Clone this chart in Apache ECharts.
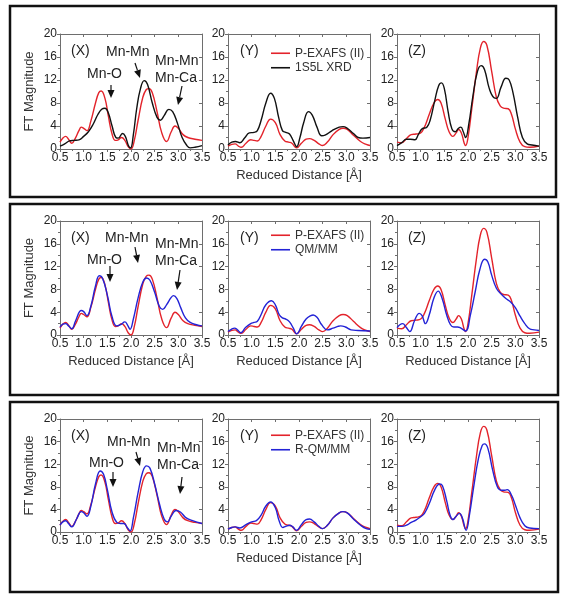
<!DOCTYPE html>
<html><head><meta charset="utf-8">
<script src="https://cdn.jsdelivr.net/npm/echarts@6/dist/echarts.min.js"></script>
<style>html,body{margin:0;padding:0;background:#fff}#c{width:566px;height:600px}</style>
</head><body><div id="c"></div>
<script>
// ---- data (Reduced Distance [Å], FT Magnitude) ----
const xMin = 0.5, xMax = 3.5, xStep = 0.5;
const yMin = 0, yMax = 20, yStep = 4;

const pexafsX = [[0.5,1.2],[0.55,1.8],[0.62,2.2],[0.68,1.7],[0.75,1.0],[0.82,1.8],[0.9,3.2],[0.95,3.8],[1.0,3.6],[1.07,3.2],[1.15,4.8],[1.25,8.0],[1.32,9.8],[1.37,10.1],[1.45,8.8],[1.52,5.8],[1.6,2.6],[1.67,1.5],[1.73,1.6],[1.8,2.0],[1.87,1.5],[1.94,0.4],[2.0,0.0],[2.07,1.5],[2.15,5.0],[2.25,9.0],[2.32,10.3],[2.38,10.5],[2.45,9.8],[2.55,6.5],[2.65,2.8],[2.75,1.3],[2.85,3.0],[2.93,4.0],[3.0,3.6],[3.1,2.5],[3.2,2.0],[3.35,1.7],[3.5,1.5]];
const pexafsY = [[0.5,0.5],[0.58,0.8],[0.65,0.9],[0.72,0.5],[0.78,0.3],[0.88,1.0],[0.98,1.6],[1.05,1.5],[1.12,1.4],[1.2,2.2],[1.3,4.0],[1.4,5.2],[1.5,4.6],[1.6,2.5],[1.7,1.4],[1.78,1.2],[1.85,1.0],[1.95,0.2],[2.05,1.0],[2.15,1.7],[2.22,1.8],[2.32,1.5],[2.42,0.9],[2.5,0.6],[2.6,1.2],[2.72,2.5],[2.85,3.4],[2.93,3.6],[3.02,3.4],[3.15,2.4],[3.3,1.3],[3.42,0.8],[3.5,0.6]];
const pexafsZ = [[0.5,1.2],[0.6,1.1],[0.7,1.8],[0.8,2.5],[0.9,2.6],[1.0,2.8],[1.08,3.8],[1.18,6.0],[1.28,8.0],[1.36,8.6],[1.43,8.0],[1.52,5.2],[1.6,3.0],[1.68,2.2],[1.75,2.8],[1.8,3.4],[1.86,2.8],[1.92,1.0],[1.95,0.6],[2.0,2.0],[2.08,7.0],[2.18,13.5],[2.26,17.5],[2.33,18.7],[2.4,18.0],[2.5,13.5],[2.6,9.0],[2.68,7.5],[2.75,7.1],[2.85,7.0],[2.92,6.0],[3.0,3.5],[3.1,1.2],[3.2,0.4],[3.3,0.3],[3.5,0.5]];

const xrdX = [[0.5,0.5],[0.6,0.9],[0.7,1.4],[0.8,1.5],[0.9,1.6],[1.0,2.2],[1.1,3.0],[1.2,4.3],[1.3,6.0],[1.38,6.9],[1.45,7.1],[1.52,6.3],[1.6,4.0],[1.68,2.0],[1.73,1.9],[1.82,2.7],[1.88,2.2],[1.95,0.5],[1.99,0.2],[2.05,2.5],[2.12,7.0],[2.2,10.5],[2.28,11.9],[2.35,11.2],[2.45,8.0],[2.55,5.5],[2.62,5.0],[2.7,5.8],[2.8,6.9],[2.88,6.5],[2.98,4.5],[3.08,2.0],[3.18,0.6],[3.25,0.2],[3.35,0.3],[3.5,0.6]];
const xrdY = [[0.5,0.7],[0.58,1.2],[0.66,1.3],[0.75,1.1],[0.85,1.9],[0.95,2.8],[1.05,2.9],[1.12,3.2],[1.2,5.0],[1.3,8.0],[1.4,9.7],[1.48,8.8],[1.57,5.5],[1.65,3.2],[1.72,2.9],[1.8,2.6],[1.88,1.4],[1.95,0.4],[2.02,2.0],[2.1,4.6],[2.2,6.5],[2.28,5.9],[2.38,3.8],[2.48,2.3],[2.55,2.4],[2.7,3.2],[2.85,3.8],[2.93,3.9],[3.02,3.6],[3.15,2.7],[3.25,2.0],[3.35,1.9],[3.5,2.0]];
const xrdZ = [[0.5,0.6],[0.6,1.1],[0.7,1.7],[0.78,1.7],[0.88,1.6],[0.95,2.5],[1.03,3.5],[1.13,3.8],[1.2,5.0],[1.3,8.5],[1.38,11.0],[1.44,11.5],[1.5,10.5],[1.58,6.5],[1.66,3.5],[1.73,3.0],[1.8,3.6],[1.85,3.8],[1.9,3.0],[1.95,2.0],[2.02,4.5],[2.1,9.0],[2.2,13.5],[2.28,14.5],[2.35,13.8],[2.45,10.5],[2.55,8.9],[2.6,8.8],[2.7,10.8],[2.8,12.3],[2.87,12.0],[2.95,9.8],[3.05,5.5],[3.15,2.0],[3.25,0.9],[3.35,0.7],[3.5,0.5]];

const qmX = [[0.5,1.4],[0.56,1.9],[0.62,2.0],[0.68,1.6],[0.75,1.1],[0.83,2.5],[0.95,4.3],[1.0,4.1],[1.07,3.4],[1.15,5.0],[1.25,8.6],[1.33,10.4],[1.4,9.9],[1.5,7.0],[1.6,3.2],[1.7,1.6],[1.78,1.8],[1.87,2.3],[1.93,1.7],[1.98,1.0],[2.05,2.8],[2.15,6.5],[2.25,9.3],[2.33,10.0],[2.4,9.6],[2.5,7.5],[2.6,5.0],[2.67,4.5],[2.75,5.3],[2.85,6.6],[2.9,6.9],[2.97,6.4],[3.05,4.8],[3.15,3.0],[3.25,2.2],[3.38,1.8],[3.5,1.6]];
const qmY = [[0.5,0.6],[0.57,1.0],[0.64,1.2],[0.7,0.9],[0.77,0.4],[0.87,1.3],[0.98,2.0],[1.05,2.2],[1.12,2.4],[1.2,3.6],[1.3,5.3],[1.42,6.0],[1.5,5.3],[1.58,3.6],[1.65,3.0],[1.72,2.8],[1.8,2.3],[1.88,1.2],[1.95,0.2],[2.05,1.5],[2.15,2.8],[2.25,3.4],[2.3,3.5],[2.38,3.1],[2.48,1.8],[2.6,0.9],[2.72,1.2],[2.82,1.5],[2.88,1.6],[2.98,1.4],[3.1,0.9],[3.25,0.8],[3.5,0.7]];
const qmZ = [[0.5,1.3],[0.56,1.8],[0.62,2.0],[0.69,1.4],[0.77,0.6],[0.87,2.5],[0.97,3.8],[1.03,3.4],[1.1,2.0],[1.18,3.5],[1.28,6.5],[1.37,7.7],[1.45,6.5],[1.55,3.5],[1.63,1.8],[1.7,1.4],[1.78,1.4],[1.85,1.2],[1.95,0.7],[2.05,3.5],[2.15,7.5],[2.25,11.5],[2.35,13.3],[2.42,12.8],[2.5,10.5],[2.6,8.2],[2.7,7.2],[2.8,6.4],[2.9,5.8],[3.0,4.8],[3.1,3.3],[3.2,2.0],[3.3,1.1],[3.4,0.9],[3.5,0.8]];

const rqmX = [[0.5,1.2],[0.56,1.8],[0.62,2.0],[0.68,1.5],[0.75,0.9],[0.85,2.3],[0.95,3.6],[1.0,3.4],[1.07,2.8],[1.15,4.5],[1.25,8.5],[1.35,10.8],[1.42,10.2],[1.5,7.5],[1.6,3.5],[1.7,1.7],[1.78,1.5],[1.85,1.5],[1.92,0.8],[1.98,0.2],[2.05,2.5],[2.15,7.0],[2.25,10.7],[2.33,11.7],[2.4,11.3],[2.5,8.5],[2.6,5.0],[2.7,2.3],[2.77,1.8],[2.85,2.8],[2.95,3.8],[3.05,3.5],[3.15,2.6],[3.3,2.0],[3.5,1.5]];
const rqmY = [[0.5,0.5],[0.58,0.8],[0.65,0.9],[0.75,0.7],[0.88,1.3],[1.0,1.8],[1.1,2.0],[1.2,3.0],[1.3,4.6],[1.4,5.3],[1.5,4.3],[1.58,2.0],[1.66,0.8],[1.72,1.0],[1.8,1.2],[1.87,0.9],[1.95,0.3],[2.05,1.3],[2.15,2.2],[2.22,2.3],[2.32,1.8],[2.42,1.0],[2.5,0.6],[2.6,1.2],[2.72,2.5],[2.85,3.4],[2.92,3.6],[3.02,3.4],[3.15,2.3],[3.3,1.2],[3.42,0.6],[3.5,0.5]];
const rqmZ = [[0.5,1.0],[0.6,1.0],[0.7,1.2],[0.8,1.7],[0.9,2.1],[1.0,2.7],[1.08,3.3],[1.18,5.0],[1.3,7.5],[1.4,8.5],[1.46,8.2],[1.55,5.5],[1.62,3.0],[1.68,2.2],[1.75,2.8],[1.82,3.3],[1.88,2.5],[1.96,0.3],[2.03,3.0],[2.12,8.0],[2.22,13.0],[2.3,15.3],[2.35,15.6],[2.42,14.8],[2.52,11.0],[2.62,8.0],[2.7,7.4],[2.78,7.4],[2.83,7.5],[2.92,6.5],[3.0,4.8],[3.1,2.5],[3.2,1.1],[3.3,0.7],[3.5,0.6]];

const expName = 'P-EXAFS (II)';
const refNames = ['1S5L XRD', 'QM/MM', 'R-QM/MM'];
const subLabels = ['(X)', '(Y)', '(Z)'];
const xTitle = 'Reduced Distance [Å]';
const yTitle = 'FT Magnitude';

// ---- layout ----
const RED = '#e3232b', BLACK = '#111111', BLUE = '#2323d6';
const panels = [
  {box:[10,6,546,191], top:34, h:115, ref:[xrdX,xrdY,xrdZ], color:BLACK, xName:[false,true,false], legTop:46},
  {box:[10,204,548,191], top:221, h:114, ref:[qmX,qmY,qmZ], color:BLUE, xName:[true,true,true], legTop:228},
  {box:[10,402,548,190], top:419, h:113, ref:[rqmX,rqmY,rqmZ], color:BLUE, xName:[false,true,false], legTop:428}
];
const exp = [pexafsX, pexafsY, pexafsZ];
const lefts = [60, 228, 397];
const W = 142;
const FONT = 'Liberation Sans, Arial, sans-serif';
const AX = '#6e6e6e';

const grid = [], xAxis = [], yAxis = [], series = [], legend = [], graphic = [];

panels.forEach((p, pi) => {
  for (let s = 0; s < 3; s++) {
    const g = pi*3 + s;
    grid.push({left: lefts[s], top: p.top, width: W, height: p.h, outerBoundsMode: 'none'});
    xAxis.push({
      type:'value', gridIndex:g, min:xMin, max:xMax, interval:xStep, position:'bottom',
      name: p.xName[s] ? xTitle : '', nameLocation:'middle', nameGap: 20,
      nameTextStyle:{fontSize:13, color:'#333', fontFamily:FONT},
      axisLine:{show:true, onZero:false, lineStyle:{color:AX, width:1}},
      axisTick:{show:true, inside:false, length:3, lineStyle:{color:AX}},
      minorTick:{show:true, splitNumber:2, length:2, lineStyle:{color:AX}},
      axisLabel:{fontSize:12, color:'#222', margin:3, fontFamily:FONT, formatter:v=>v.toFixed(1)},
      splitLine:{show:false}
    });
    xAxis.push({
      type:'value', gridIndex:g, min:xMin, max:xMax, interval:xStep, position:'top',
      axisLine:{show:true, onZero:false, lineStyle:{color:AX, width:1}},
      axisTick:{show:true, inside:true, length:3, lineStyle:{color:AX}},
      minorTick:{show:false},
      axisLabel:{show:false}, splitLine:{show:false}
    });
    yAxis.push({
      type:'value', gridIndex:g, min:yMin, max:yMax, interval:yStep, position:'left',
      name: s === 0 ? yTitle : '', nameLocation:'middle', nameGap: 24,
      nameTextStyle:{fontSize:13, color:'#333', fontFamily:FONT},
      axisLine:{show:true, onZero:false, lineStyle:{color:AX, width:1}},
      axisTick:{show:true, inside:false, length:3, lineStyle:{color:AX}},
      minorTick:{show:true, splitNumber:2, length:2, lineStyle:{color:AX}},
      axisLabel:{fontSize:12, color:'#222', margin:3, fontFamily:FONT},
      splitLine:{show:false}
    });
    yAxis.push({
      type:'value', gridIndex:g, min:yMin, max:yMax, interval:yStep, position:'right',
      axisLine:{show:true, onZero:false, lineStyle:{color:AX, width:1}},
      axisTick:{show:true, inside:true, length:3, lineStyle:{color:AX}},
      axisLabel:{show:false}, splitLine:{show:false}
    });
    series.push({
      type:'line', name:expName, xAxisIndex:2*g, yAxisIndex:2*g, data:exp[s],
      smooth:0.45, showSymbol:false, symbol:'none', clip:true,
      lineStyle:{color:RED, width:1.4}, itemStyle:{color:RED}, z:2
    });
    series.push({
      type:'line', name:refNames[pi], xAxisIndex:2*g, yAxisIndex:2*g, data:p.ref[s],
      smooth:0.45, showSymbol:false, symbol:'none', clip:true,
      lineStyle:{color:p.color, width:1.4}, itemStyle:{color:p.color}, z:3
    });
    const labX = [71, 240, 408][s];
    graphic.push({type:'text', left:labX, top:p.top + 10, style:{text:subLabels[s], font:'14px '+FONT, fill:'#222'}});
  }
  legend.push({
    data:[expName, refNames[pi]], orient:'vertical', left:271, top:p.legTop, padding:0,
    icon:'rect', itemWidth:19, itemHeight:1.6, itemGap:0, selectedMode:false,
    textStyle:{fontSize:12, color:'#333', fontFamily:FONT, lineHeight:14.5}
  });
  graphic.push({type:'rect', shape:{x:p.box[0], y:p.box[1], width:p.box[2], height:p.box[3]},
    style:{fill:null, stroke:'#111', lineWidth:2.5}, z:10});
});

// annotations (X plots)
const annPanels = [
  {mm:[106,45], mm2:[155,53], mo:[87,67], arMO:[111,85,111,98], arMM:[135,63,140,78], arMC:[182,86,178,105]},
  {mm:[105,231], mm2:[155,236], mo:[87,253], arMO:[110,266,110,282], arMM:[135,247,138,263], arMC:[180,270,177,290]},
  {mm:[107,435], mm2:[157,440], mo:[89,456], arMO:[113,472,113,487], arMM:[136,452,140,466], arMC:[182,477,180,494]}
];
function arrow(a) {
  const [x1,y1,x2,y2] = a;
  const dx = x2-x1, dy = y2-y1, L = Math.hypot(dx,dy), ux = dx/L, uy = dy/L;
  const hl = 8, hw = 3.5;
  const bx = x2 - ux*hl, by = y2 - uy*hl;
  graphic.push({type:'line', shape:{x1:x1,y1:y1,x2:bx,y2:by}, style:{stroke:'#111', lineWidth:1.2}});
  graphic.push({type:'polygon', shape:{points:[[x2,y2],[bx - uy*hw, by + ux*hw],[bx + uy*hw, by - ux*hw]]}, style:{fill:'#111'}});
}
annPanels.forEach(a => {
  graphic.push({type:'text', left:a.mm[0], top:a.mm[1], style:{text:'Mn-Mn', font:'14px '+FONT, fill:'#222'}});
  graphic.push({type:'text', left:a.mm2[0], top:a.mm2[1], style:{text:'Mn-Mn\nMn-Ca', font:'14px '+FONT, fill:'#222', lineHeight:17}});
  graphic.push({type:'text', left:a.mo[0], top:a.mo[1], style:{text:'Mn-O', font:'14px '+FONT, fill:'#222'}});
  arrow(a.arMO); arrow(a.arMM); arrow(a.arMC);
});

const chart = echarts.init(document.getElementById('c'), null, {renderer:'canvas'});
chart.setOption({
  animation:false, backgroundColor:'#fff',
  grid, xAxis, yAxis, series, legend, graphic
});
</script></body></html>
